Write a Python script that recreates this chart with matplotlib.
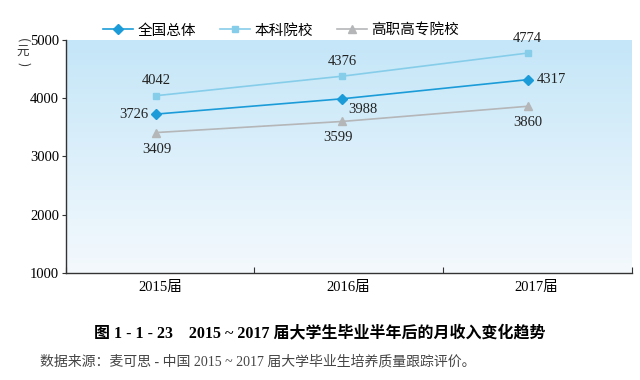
import numpy as np
import matplotlib
matplotlib.use("Agg")
import matplotlib.pyplot as plt
from matplotlib.colors import LinearSegmentedColormap

plt.rcParams['font.family'] = ['Liberation Serif', 'Noto Sans CJK SC', 'DejaVu Sans']

years = ["2015届", "2016届", "2017届"]
overall = [3726, 3988, 4317]
undergrad = [4042, 4376, 4774]
vocational = [3409, 3599, 3860]
series_names = ["全国总体", "本科院校", "高职高专院校"]

x = np.arange(len(years))

fig = plt.figure(figsize=(6.4, 3.8), dpi=100)
ax = fig.add_axes([0.103, 0.282, 0.884, 0.613])

# points sit a bit left of the category centres in the original
x0, x1 = -0.485, 2.56
label_pos = [0.022, 1.035, 2.048]
bounds = [x0, 0.528, 1.542, x1]

# gradient background
cmap = LinearSegmentedColormap.from_list("bg", ["#f4f9fd", "#c4e6f8"])
grad = np.linspace(0, 1, 256).reshape(-1, 1)
ax.imshow(grad, aspect="auto", cmap=cmap, origin="lower",
          extent=[x0, x1, 1000, 5000], zorder=0)

c_all = "#1b9cd8"
c_und = "#86cdea"
c_voc = "#b4b6b8"

ax.plot(x, overall, color=c_all, marker="D", markersize=5, lw=1.2, label=series_names[0], zorder=3)
ax.plot(x, undergrad, color=c_und, marker="s", markersize=5, lw=1.2, label=series_names[1], zorder=3)
ax.plot(x, vocational, color=c_voc, marker="^", markersize=6, lw=1.2, label=series_names[2], zorder=3)

fs = 10.5
offs_all = [(-22, 0), (21, -11), (24, 0)]
for i, v in enumerate(overall):
    ax.annotate(str(v), (x[i], v), textcoords="offset pixels", xytext=offs_all[i],
                ha="center", va="center", fontsize=fs, color="#222222")
for i, v in enumerate(undergrad):
    ax.annotate(str(v), (x[i], v), textcoords="offset pixels", xytext=(0, 15),
                ha="center", va="center", fontsize=fs, color="#222222")
offs_voc = [(1, -17), (-4, -16), (0, -16)]
for i, v in enumerate(vocational):
    ax.annotate(str(v), (x[i], v), textcoords="offset pixels", xytext=offs_voc[i],
                ha="center", va="center", fontsize=fs, color="#222222")

ax.set_xlim(x0, x1)
ax.set_ylim(1000, 5000)
ax.set_yticks([1000, 2000, 3000, 4000, 5000])
ax.tick_params(axis="y", labelsize=10.5, length=3, color="#333333", pad=2)
ax.set_xticks(bounds)
ax.set_xticklabels([])
ax.set_xticks(label_pos, minor=True)
ax.set_xticklabels(years, minor=True, fontsize=10.5)
ax.tick_params(axis="x", which="major", direction="in", length=4, color="#333333")
ax.tick_params(axis="x", which="minor", length=0, pad=6)
for s in ["top", "right"]:
    ax.spines[s].set_visible(False)
for s in ["left", "bottom"]:
    ax.spines[s].set_color("#333333")
    ax.spines[s].set_linewidth(1.0)

# unit label written vertically: ( 元 )
unit_kw = dict(ha="center", va="center", fontsize=9, color="#333333",
               family=['Noto Sans CJK SC'])
fig.text(0.036, 1 - 40 / 380, "(", rotation=-90, **unit_kw)
fig.text(0.036, 1 - 52 / 380, "元", **unit_kw)
fig.text(0.036, 1 - 64 / 380, ")", rotation=-90, **unit_kw)

ax.legend(loc="lower left", bbox_to_anchor=(0.055, 0.985), ncol=3, frameon=False,
          prop={'family': 'Noto Sans CJK SC', 'size': 10.5}, handlelength=2.1,
          columnspacing=1.6, handletextpad=0.3, borderaxespad=0.0)

fig.text(0.5, 0.123, "图 1 - 1 - 23    2015 ~ 2017 届大学生毕业半年后的月收入变化趋势",
         ha="center", va="center", fontsize=11.5, fontweight="bold",
         family=['Liberation Serif', 'Noto Sans CJK SC'])
fig.text(0.063, 0.047, "数据来源：麦可思 - 中国 2015 ~ 2017 届大学毕业生培养质量跟踪评价。",
         ha="left", va="center", fontsize=10, color="#444444",
         family=['Liberation Serif', 'Noto Sans CJK SC'])

fig.savefig("out.png", dpi=100)
